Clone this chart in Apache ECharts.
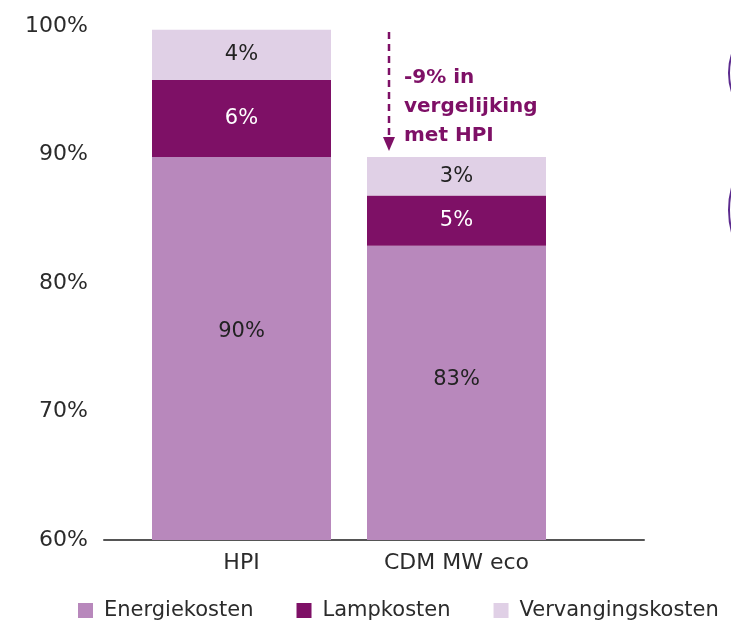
<!DOCTYPE html>
<html>
<head>
<meta charset="utf-8">
<script src="https://cdn.jsdelivr.net/npm/echarts@6/dist/echarts.min.js"></script>
<style>html,body{margin:0;padding:0;background:#fff}#c{width:731px;height:623px}</style>
</head>
<body>
<div id="c"></div>
<script>
const categories = ['HPI', 'CDM MW eco'];
const seriesNames = ['Energiekosten', 'Lampkosten', 'Vervangingskosten'];
const energieValues = [89.8, 82.9];
const lampValues = [6.0, 3.9];
const vervangingValues = [3.9, 3.0];
const energieLabels = ['90%', '83%'];
const lampLabels = ['6%', '5%'];
const vervangingLabels = ['4%', '3%'];
const yTicks = [60, 70, 80, 90, 100];
const annotationText = ['-9% in', 'vergelijking', 'met HPI'];

const FONT = 'DejaVu Sans';
const colors = ['#B888BC', '#7E1066', '#E0D0E6'];

function mk(name, values, labels, color, labelColor, pos) {
  return {
    name: name, type: 'bar', stack: 'total', barWidth: 179,
    xAxisIndex: 0, yAxisIndex: 0,
    itemStyle: { color: color },
    data: values,
    label: {
      show: true, position: pos || 'inside', color: labelColor,
      fontFamily: FONT, fontSize: 21, align: 'center', verticalAlign: 'middle',
      formatter: p => labels[p.dataIndex]
    }
  };
}

const chart = echarts.init(document.getElementById('c'));
chart.setOption({
  animation: false,
  textStyle: { fontFamily: FONT },
  grid: [
    { left: 134, right: 167, top: 26, bottom: 83 },
    { left: 104, right: 87, top: 26, bottom: 83 }
  ],
  xAxis: [
    { type: 'category', gridIndex: 0, data: categories,
      axisLine: { show: false }, axisTick: { show: false },
      axisLabel: { color: '#2b2b2b', fontSize: 22, margin: 12, fontFamily: FONT } },
    { type: 'value', gridIndex: 1, min: 0, max: 1,
      axisLine: { show: true, lineStyle: { color: '#555', width: 2 } },
      axisTick: { show: false }, axisLabel: { show: false }, splitLine: { show: false } }
  ],
  yAxis: [
    { type: 'value', gridIndex: 0, min: yTicks[0], max: yTicks[yTicks.length - 1], interval: 10,
      axisLine: { show: false }, axisTick: { show: false }, splitLine: { show: false },
      axisLabel: { formatter: '{value}%', color: '#2b2b2b', fontSize: 22, margin: 46, fontFamily: FONT } },
    { type: 'value', gridIndex: 1, show: false, min: 0, max: 1 }
  ],
  legend: {
    left: 73, top: 595, itemWidth: 15, itemHeight: 15, itemGap: 43, icon: 'rect',
    textStyle: { fontSize: 21, color: '#2b2b2b', fontFamily: FONT, padding: [0, 0, 0, 6] },
    data: seriesNames
  },
  series: [
    mk(seriesNames[0], energieValues, energieLabels, colors[0], '#222', ['50%', '45.5%']),
    mk(seriesNames[1], lampValues, lampLabels, colors[1], '#fff'),
    mk(seriesNames[2], vervangingValues, vervangingLabels, colors[2], '#222')
  ],
  graphic: [
    { type: 'line', shape: { x1: 389, y1: 32, x2: 389, y2: 139 },
      style: { stroke: '#7E1066', lineWidth: 2.5, lineDash: [7, 5] } },
    { type: 'polygon', shape: { points: [[383, 137], [395, 137], [389, 151]] },
      style: { fill: '#7E1066' } },
    { type: 'text', x: 404, y: 63,
      style: { text: annotationText.join('\n'), fill: '#7E1066', font: 'bold 20px "DejaVu Sans"', lineHeight: 29 } },
    { type: 'circle', shape: { cx: 788, cy: 73, r: 59 },
      style: { fill: 'none', stroke: '#5B2A8E', lineWidth: 2 } },
    { type: 'circle', shape: { cx: 816, cy: 210, r: 87 },
      style: { fill: 'none', stroke: '#5B2A8E', lineWidth: 2 } }
  ]
});
</script>
</body>
</html>
